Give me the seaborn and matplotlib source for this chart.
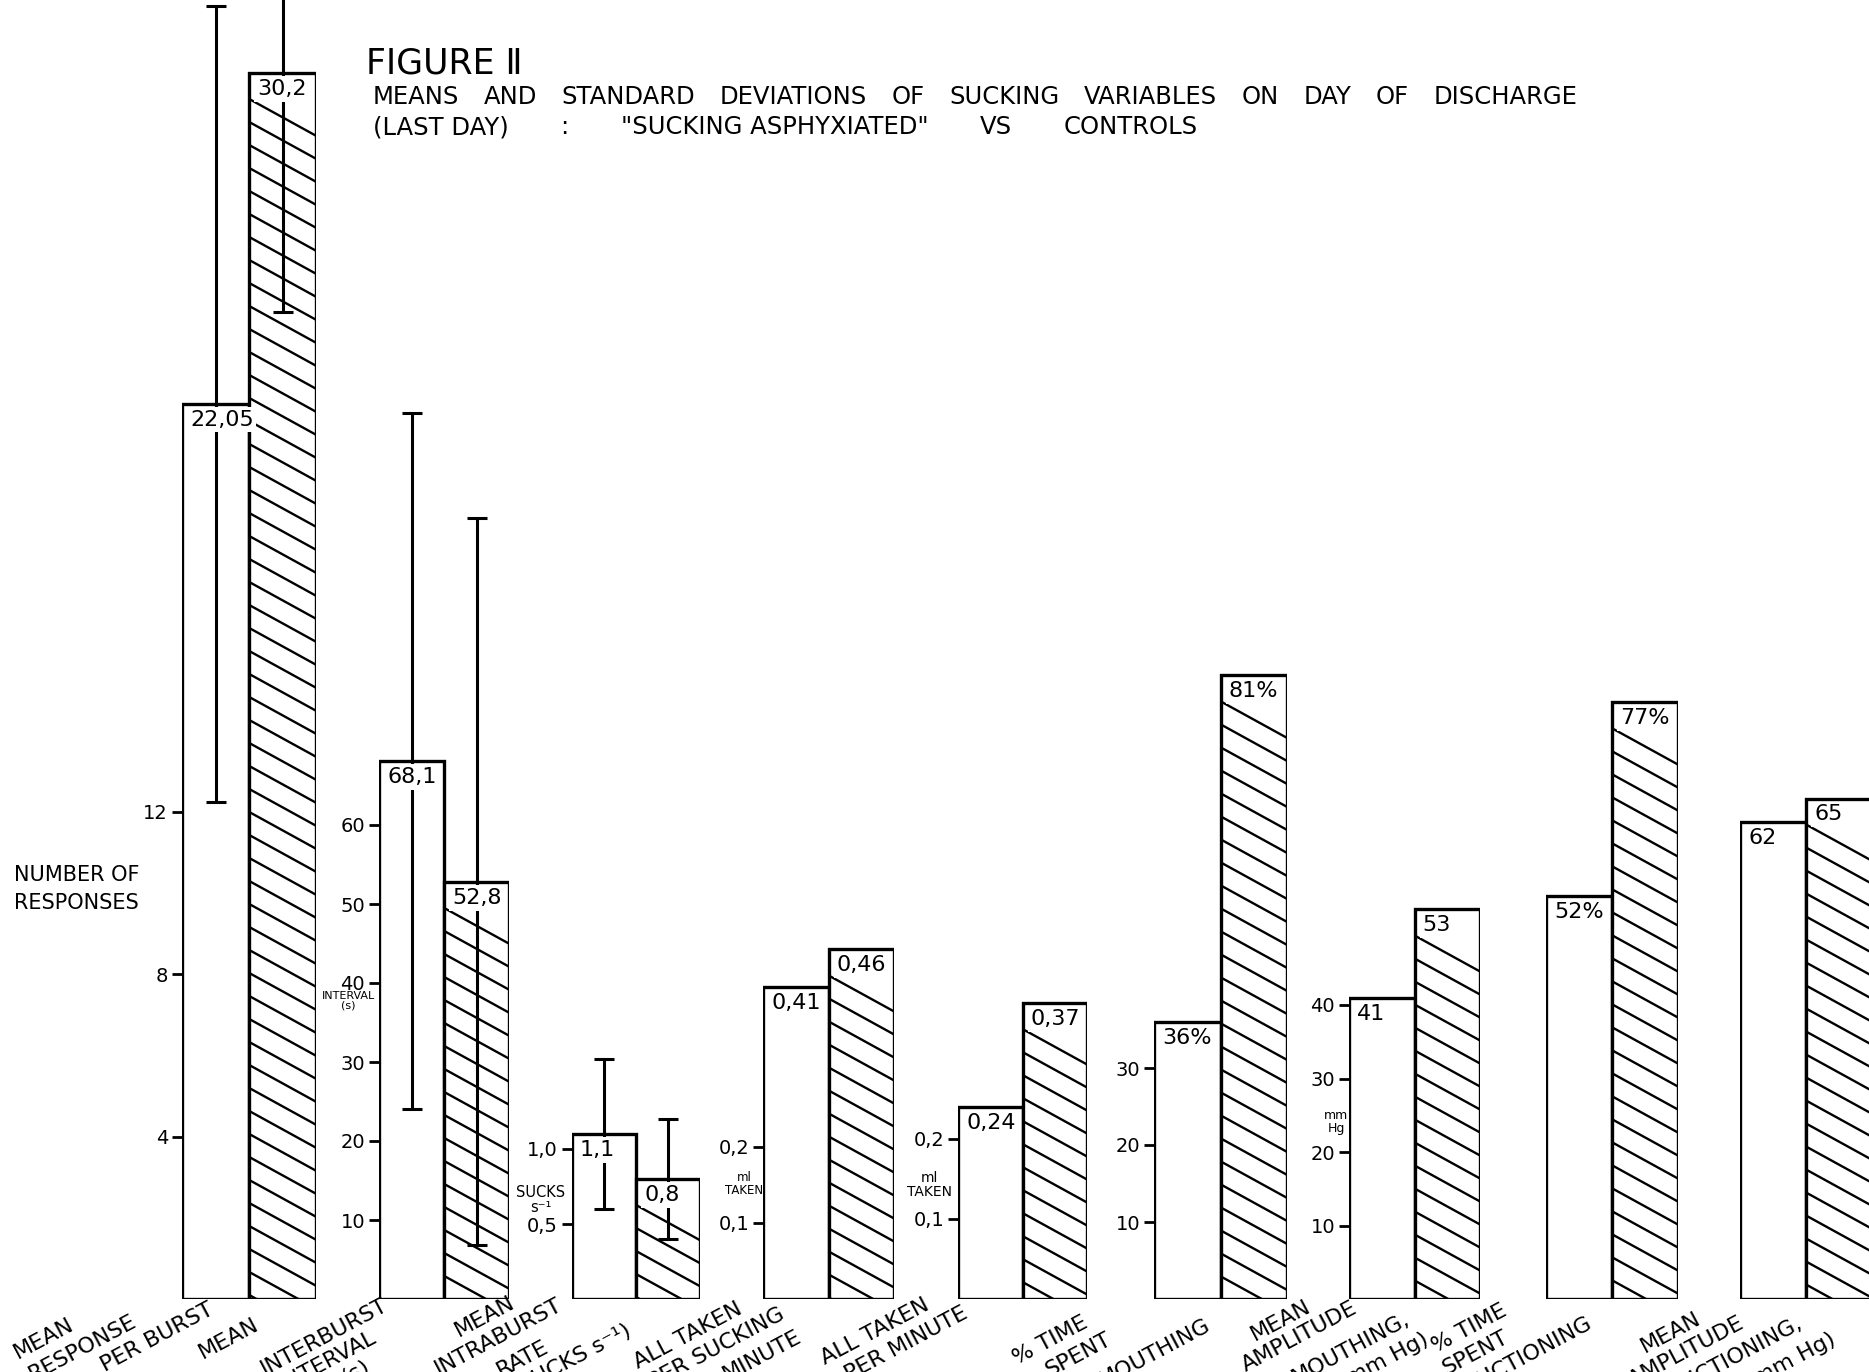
import numpy as np
import pandas as pd
import matplotlib
matplotlib.use("Agg")
import matplotlib.pyplot as plt
import seaborn as sns

# ---------------- data ----------------
variables = [
    "Mean response per burst", "Mean interburst interval", "Mean intraburst rate",
    "All taken per sucking minute", "All taken per minute", "% time spent mouthing",
    "Mean amplitude mouthing", "% time spent suctioning", "Mean amplitude suctioning",
]
groups = ["Sucking asphyxiated", "Controls"]

asphyxiated_mean = [22.05, 68.1, 1.1, 0.41, 0.24, 36, 41, 52, 62]
control_mean = [30.2, 52.8, 0.8, 0.46, 0.37, 81, 53, 77, 65]
asphyxiated_sd = [9.8, 44.0, 0.5, np.nan, np.nan, np.nan, np.nan, np.nan, np.nan]
control_sd = [5.9, 46.0, 0.4, np.nan, np.nan, np.nan, np.nan, np.nan, np.nan]

asphyxiated_decimals = [2, 1, 1, 2, 2, 0, 0, 0, 0]
control_decimals = [1, 1, 1, 2, 2, 0, 0, 0, 0]
value_suffix = ["", "", "", "", "", "%", "", "%", ""]

y_ticks = [[4, 8, 12], [10, 20, 30, 40, 50, 60], [0.5, 1.0], [0.1, 0.2], [0.1, 0.2],
           [10, 20, 30], [10, 20, 30, 40], [], []]
tick_decimals = [0, 0, 1, 1, 1, 0, 0, 0, 0]

y_units = ["NUMBER OF\nRESPONSES", "INTERVAL\n(s)", "SUCKS\ns\u207b\u00b9", "ml\nTAKEN",
           "ml\nTAKEN", "", "mm\nHg", "", ""]

x_label_lines = [
    ["MEAN", "RESPONSE", "PER BURST"],
    ["MEAN", "INTERBURST", "INTERVAL", "(s)"],
    ["MEAN", "INTRABURST", "RATE", "(SUCKS s\u207b\u00b9)"],
    ["ALL TAKEN", "PER SUCKING", "MINUTE"],
    ["ALL TAKEN", "PER MINUTE"],
    ["% TIME", "SPENT", "MOUTHING"],
    ["MEAN", "AMPLITUDE", "MOUTHING,", "(mm Hg)"],
    ["% TIME", "SPENT", "SUCTIONING"],
    ["MEAN", "AMPLITUDE", "SUCTIONING,", "(mm Hg)"],
]

title = "FIGURE \u2161"
subtitle_1 = ["MEANS", "AND", "STANDARD", "DEVIATIONS", "OF", "SUCKING", "VARIABLES",
              "ON", "DAY", "OF", "DISCHARGE"]
subtitle_2 = ["(LAST DAY)", ":", "\"SUCKING ASPHYXIATED\"", "VS", "CONTROLS"]

# ---------------- layout (pixels, y measured from the top) ----------------
W, H = 1869, 1372
BASE = 1299
panel_left = [182, 379, 572, 763, 958, 1154, 1349, 1546, 1740]
panel_width = [134, 130, 128, 131, 129, 133, 131, 132, 132]
px_per_unit = [40.6, 7.9, 150, 760, 800, 7.7, 7.35, 7.75, 7.7]

unit_pos = [(14, 889, "left", 15), (348, 1001, "center", 8), (541, 1200, "center", 10.5),
            (744, 1184, "center", 8.5), (929, 1185, "center", 10), None,
            (1336, 1122, "center", 9), None, None]

# baseline start of every slanted label line
x_label_pos = [
    [(18, 1359), (33, 1381), (105, 1372)],
    [(203, 1359), (265, 1375), (284, 1391), (346, 1384)],
    [(459, 1337), (439, 1375), (501, 1377), (517, 1396)],
    [(638, 1369), (653, 1389), (727, 1381)],
    [(825, 1365), (849, 1381)],
    [(1017, 1365), (1049, 1377), (1103, 1387)],
    [(1255, 1341), (1246, 1372), (1296, 1384), (1343, 1389)],
    [(1436, 1353), (1446, 1375), (1469, 1393)],
    [(1645, 1353), (1633, 1387), (1674, 1396), (1750, 1389)],
]
X_LABEL_ROT = 28

SUB_Y = (104, 134)
SUB_SPAN = ((373, 1577), (373, 1198))

HATCH_SPACING = 23.0   # px between hatch lines (vertical)
HATCH_SLOPE = 0.55     # drop per px across
HATCH_GAP = 26.0       # blank strip below the top of a hatched bar

sns.set_theme(style="white")
plt.rcParams["font.family"] = ["DejaVu Sans"]
plt.rcParams["text.color"] = "black"
plt.rcParams["ytick.color"] = "black"

fig = plt.figure(figsize=(W / 100, H / 100), dpi=100)
fig.patch.set_facecolor("white")


def fx(x):
    return x / W


def fy(y):
    return 1 - y / H


def fmt(v, d, suffix=""):
    return f"{v:.{d}f}".replace(".", ",") + suffix


for i in range(len(variables)):
    ax = fig.add_axes([fx(panel_left[i]), (H - BASE) / H, panel_width[i] / W, BASE / H])
    ax.set_facecolor("none")
    df = pd.DataFrame({"group": groups, "value": [asphyxiated_mean[i], control_mean[i]]})
    sns.barplot(data=df, x="group", y="value", hue="group", palette=["white", "white"],
                edgecolor="black", linewidth=2.4, width=1.0, saturation=1,
                errorbar=None, legend=False, ax=ax)
    ax.set_xlim(-0.5, 1.5)
    ax.set_ylim(0, BASE / px_per_unit[i])
    for s in ax.spines.values():
        s.set_visible(False)
    ax.set_xticks([])
    ax.set_xlabel("")
    ax.set_ylabel("")
    ax.set_yticks(y_ticks[i])
    ax.set_yticklabels([fmt(t, tick_decimals[i]) for t in y_ticks[i]])
    ax.tick_params(axis="y", left=True, length=7, width=2, direction="out",
                   pad=3, labelsize=14, colors="black")

    bars = sorted(ax.patches, key=lambda p: p.get_x())
    open_bar, hatched_bar = bars[0], bars[1]

    # diagonal hatching of the control bar
    bx, bw, bh = hatched_bar.get_x(), hatched_bar.get_width(), hatched_bar.get_height()
    (x0, y0), (x1, y1) = ax.transData.transform([[bx, 0], [bx + bw, bh]])
    inv = ax.transData.inverted()
    yl = y1 - HATCH_GAP
    while yl > y0:
        pts = inv.transform([[x0, yl], [x1, yl - HATCH_SLOPE * (x1 - x0)]])
        ln, = ax.plot(pts[:, 0], pts[:, 1], color="black", lw=1.7,
                      solid_capstyle="butt", zorder=2)
        ln.set_clip_path(hatched_bar)
        yl -= HATCH_SPACING

    # standard deviations
    sds = np.array([asphyxiated_sd[i], control_sd[i]])
    if not np.all(np.isnan(sds)):
        ax.errorbar([0, 1], [asphyxiated_mean[i], control_mean[i]], yerr=sds, fmt="none",
                    ecolor="black", elinewidth=2.2, capsize=7, capthick=2.2, zorder=3)

    # value labels at the top of each bar
    for bar, v, d in ((open_bar, asphyxiated_mean[i], asphyxiated_decimals[i]),
                      (hatched_bar, control_mean[i], control_decimals[i])):
        ax.annotate(fmt(v, d, value_suffix[i]),
                    xy=(bar.get_x(), bar.get_height()), xytext=(8, -6),
                    textcoords="offset pixels", ha="left", va="top", fontsize=16,
                    bbox=dict(boxstyle="square,pad=0.12", fc="white", ec="none"),
                    zorder=5)

    # unit label beside the axis
    if unit_pos[i] is not None:
        ux, uy, uha, usz = unit_pos[i]
        fig.text(fx(ux), fy(uy), y_units[i], ha=uha, va="center", fontsize=usz,
                 linespacing=1.45 if i == 0 else 1.0)

    # slanted category label below the panel
    for line, (lx, ly) in zip(x_label_lines[i], x_label_pos[i]):
        fig.text(fx(lx), fy(ly), line, rotation=X_LABEL_ROT, rotation_mode="anchor",
                 ha="left", va="baseline", fontsize=16)

fig.text(fx(366), fy(74), title, fontsize=25, va="baseline", ha="left")

# subtitle words spread evenly across the measured line span
renderer = fig.canvas.get_renderer()
for words, y, (xa, xb) in zip((subtitle_1, subtitle_2), SUB_Y, SUB_SPAN):
    texts = [fig.text(0, fy(y), w, fontsize=17.5, va="baseline", ha="left") for w in words]
    widths = [t.get_window_extent(renderer).width for t in texts]
    gap = (xb - xa - sum(widths)) / (len(words) - 1)
    x = xa
    for t, w in zip(texts, widths):
        t.set_x(fx(x))
        x += w + gap

fig.savefig("out.png", dpi=100, facecolor="white")
